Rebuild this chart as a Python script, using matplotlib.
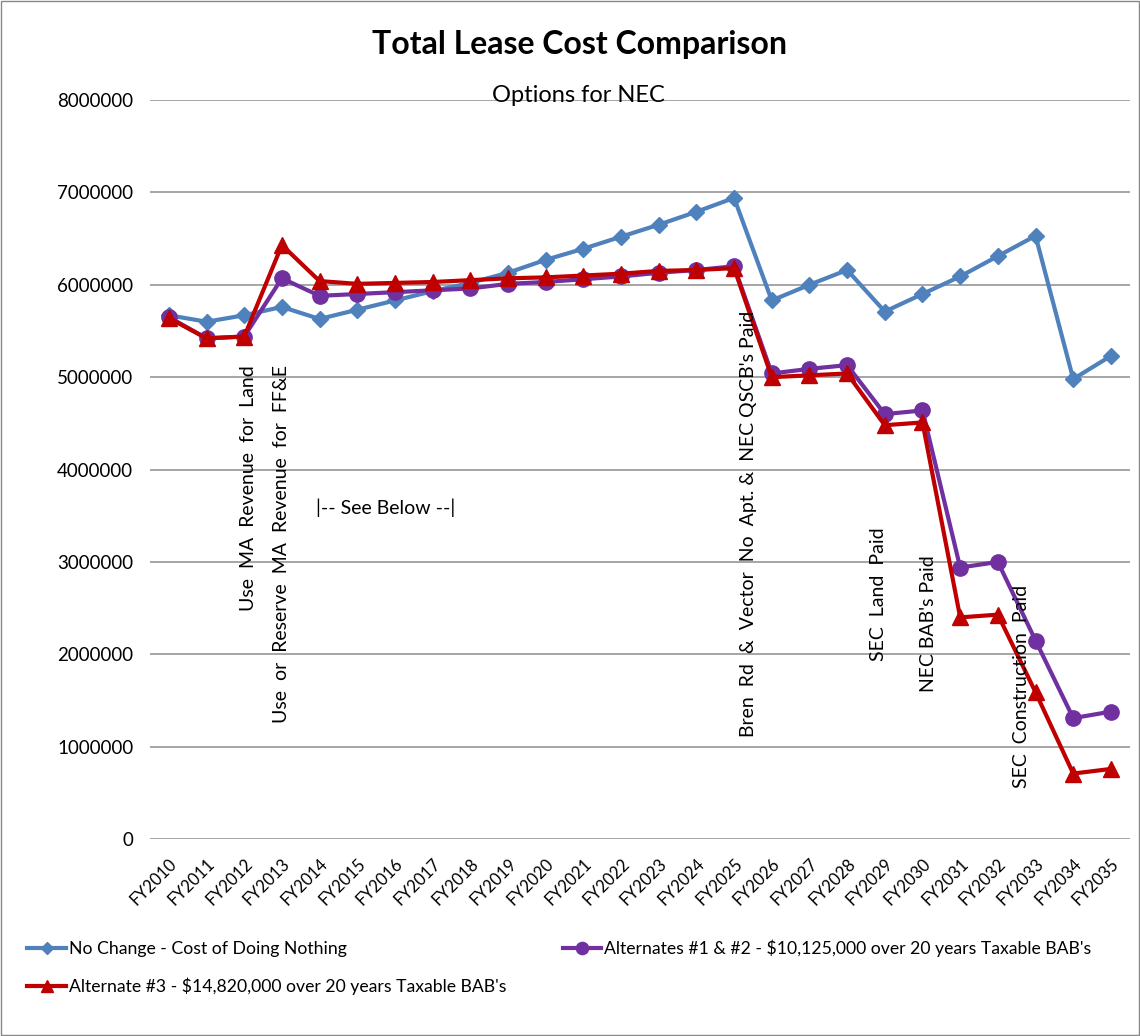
import numpy as np
import matplotlib.pyplot as plt
from matplotlib.patches import Rectangle

plt.rcParams['font.family'] = ['Lato', 'DejaVu Sans']

# Fiscal years
years = ["FY%d" % y for y in range(2010, 2036)]

# Total lease cost per option
no_change = [5670000, 5600000, 5670000, 5760000, 5630000, 5730000, 5830000, 5930000,
             6020000, 6130000, 6270000, 6390000, 6520000, 6650000, 6790000, 6940000,
             5830000, 6000000, 6160000, 5710000, 5900000, 6090000, 6310000, 6530000,
             4980000, 5230000]
alt_1_2 = [5650000, 5420000, 5440000, 6070000, 5880000, 5900000, 5920000, 5940000,
           5960000, 6010000, 6030000, 6060000, 6090000, 6130000, 6160000, 6200000,
           5040000, 5090000, 5130000, 4600000, 4640000, 2940000, 3000000, 2150000,
           1310000, 1380000]
alt_3 = [5640000, 5420000, 5440000, 6430000, 6040000, 6010000, 6020000, 6030000,
         6050000, 6070000, 6080000, 6100000, 6120000, 6150000, 6160000, 6180000,
         5000000, 5020000, 5040000, 4480000, 4510000, 2400000, 2430000, 1590000,
         710000, 760000]

labels = ["No Change - Cost of Doing Nothing",
          "Alternates #1 & #2 - $10,125,000 over 20 years Taxable BAB's",
          "Alternate #3 - $14,820,000 over 20 years Taxable BAB's"]

# (text, x position in categories, top of text in $)
notes = [("Use  MA  Revenue  for  Land", 2.12, 5130000),
         ("Use  or  Reserve  MA  Revenue  for  FF&E", 3.0, 5130000),
         ("Bren  Rd  &  Vector  No  Apt. &  NEC QSCB's Paid", 15.39, 5720000),
         ("SEC  Land  Paid", 18.82, 3370000),
         ("NEC BAB's Paid", 20.17, 3070000),
         ("SEC  Construction  Paid", 22.64, 2750000)]

fig = plt.figure(figsize=(11.4, 10.36), dpi=100)
ax = fig.add_axes([0.1316, 0.19, 0.8594, 0.7135])

x = np.arange(len(years))
l1, = ax.plot(x, no_change, color='#4F81BD', lw=3, marker='D', ms=8, label=labels[0])
l2, = ax.plot(x, alt_1_2, color='#7030A0', lw=3, marker='o', ms=11, label=labels[1])
l3, = ax.plot(x, alt_3, color='#C00000', lw=3, marker='^', ms=11, label=labels[2])

ax.set_xlim(-0.5, len(years) - 0.5)
ax.set_ylim(0, 8000000)
ax.set_yticks(np.arange(0, 8000001, 1000000))
ax.set_yticklabels([str(v) for v in range(0, 8000001, 1000000)], fontsize=13.5)
ax.set_xticks(x)
ax.set_xticklabels(years, rotation=45, ha='right', rotation_mode='anchor', fontsize=12)
ax.tick_params(axis='y', length=0, pad=12)
ax.tick_params(axis='x', length=0, pad=12)
ax.grid(axis='y', color='#969696', lw=1.2)
ax.set_axisbelow(True)
for s in ax.spines.values():
    s.set_visible(False)

for txt, xp, yp in notes:
    ax.text(xp, yp, txt, rotation=90, ha='center', va='top', fontsize=14)
ax.text(5.76, 3590000, "|-- See Below --|", ha='center', va='center', fontsize=14)

fig.text(0.508, 0.957, "Total Lease Cost Comparison", ha='center', va='center',
         fontsize=23, fontweight='bold')
fig.text(0.507, 0.908, "Options for NEC", ha='center', va='center', fontsize=17)

fig.legend(handles=[l1, l3, l2], loc='lower left', bbox_to_anchor=(0.01, 0.024),
           ncol=2, frameon=False, fontsize=12.7, handlelength=2.2, handletextpad=0.15,
           columnspacing=3.2, labelspacing=1.15, markerscale=0.8)

fig.patches.append(Rectangle((0.001, 0.001), 0.998, 0.998, transform=fig.transFigure,
                             fill=False, edgecolor='#888888', lw=1))

fig.savefig('out.png', dpi=100)
